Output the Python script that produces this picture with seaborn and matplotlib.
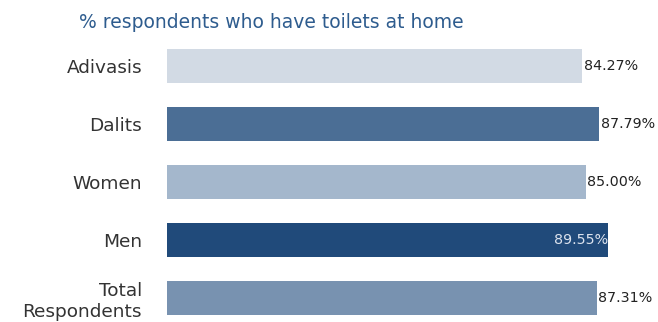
import matplotlib
matplotlib.use("Agg")
import matplotlib.pyplot as plt
import seaborn as sns
import pandas as pd

# Share of respondents with a toilet at home, by group
groups = ["Adivasis", "Dalits", "Women", "Men", "Total\nRespondents"]
shares = [84.27, 87.79, 85.00, 89.55, 87.31]
bar_colors = ["#d2dae4", "#4b6e95", "#a4b7cc", "#204a7a", "#7892b0"]

df = pd.DataFrame({"group": groups, "share": shares})

sns.set_theme(style="white")
plt.rcParams["font.family"] = ["DejaVu Sans"]

fig = plt.figure(figsize=(6.58, 3.22), dpi=100)
ax = fig.add_axes([167 / 658, 0.0, 492.5 / 658, 1.0])

sns.barplot(data=df, x="share", y="group", hue="group", palette=bar_colors,
            orient="h", width=0.587, legend=False, linewidth=0,
            saturation=1, ax=ax)

ax.set_xlim(0, 100)
ax.set_ylim(4.416, -1.14)
ax.set_xlabel("")
ax.set_ylabel("")
ax.set_xticks([])
ax.tick_params(axis="y", length=0, pad=18, labelsize=13.3, labelcolor="#333333")
for s in ax.spines.values():
    s.set_visible(False)

# value labels: inside the darkest bar, outside the others
for i, (g, v) in enumerate(zip(groups, shares)):
    text = f"{v:.2f}%"
    if g == "Men":
        ax.text(v, i, text, ha="right", va="center", fontsize=10.3,
                color="#dce3ee", clip_on=False)
    else:
        ax.text(v + 0.3, i, text, ha="left", va="center", fontsize=10.3,
                color="#222222", clip_on=False)

fig.text(271 / 658, 1 - 23 / 322, "% respondents who have toilets at home",
         ha="center", va="center", fontsize=13.5, color="#2e5c8e")

fig.savefig("out.png", dpi=100)
